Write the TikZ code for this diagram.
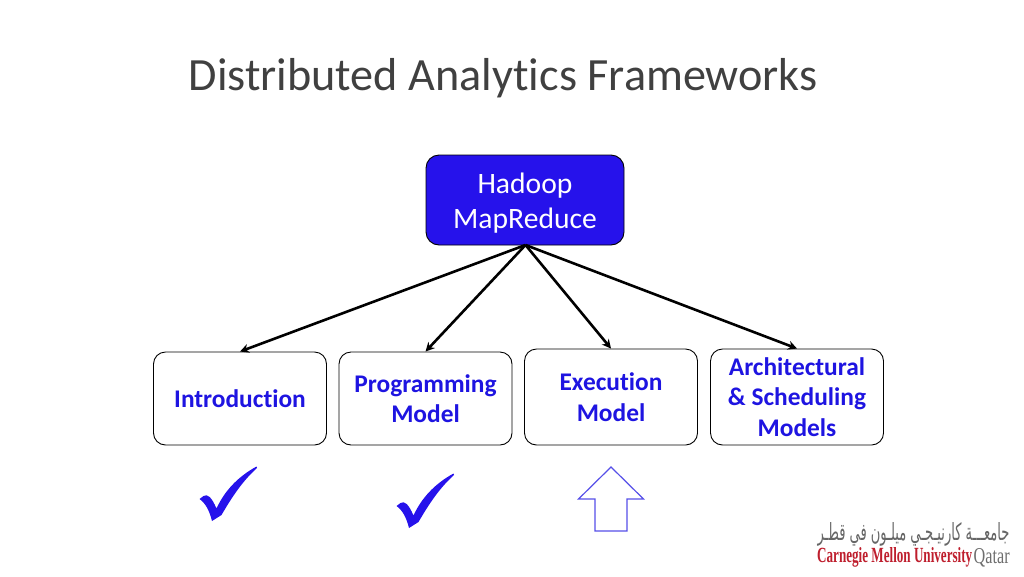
\documentclass[tikz,border=0pt]{standalone}
\usepackage{fontspec}
\setmainfont{Carlito}[RawFeature={-liga}]
\newfontfamily\logoserif{Liberation Serif}
\newfontfamily\arabicfont[Script=Arabic]{DejaVu Sans}
\TeXXeTstate=1
\definecolor{hblue}{RGB}{38,18,235}
\definecolor{lblue}{RGB}{30,20,225}
\definecolor{cmured}{RGB}{190,30,45}
\definecolor{cmugray}{RGB}{110,110,110}
\tikzset{
 card/.style={draw=black,line width=0.9pt,fill=white,rounded corners=12pt,align=center,text=lblue,font=\fontsize{25.4}{30.5}\selectfont\bfseries,inner sep=0pt},
 head/.style={draw=black,line width=0.9pt,fill=hblue,rounded corners=13pt,align=center,text=white,font=\fontsize{29.6}{35.5}\selectfont,inner sep=0pt},
 link/.style={draw=black,line width=2.6pt,-{Stealth[length=9pt,width=9pt]}},
 tick/.style={fill=hblue,draw=none},
}
\usetikzlibrary{arrows.meta}
\begin{document}
\begin{tikzpicture}[x=1pt,y=-1pt]
\useasboundingbox (0,0) rectangle (1024,576);
\node[anchor=west,font=\fontsize{46.2}{50}\selectfont,text=black!75,inner sep=0pt] (title) at (188.5,78.5) {Distributed Analytics Frameworks};
\node[head,minimum width=198pt,minimum height=90pt] (h) at (525,200) {};
\node[align=center,text=white,font=\fontsize{29.6}{35.5}\selectfont,inner sep=0pt] (ht) at (525,203) {Hadoop\\MapReduce};
\node[card,minimum width=173pt,minimum height=93pt] (a) at (240,398.5) {Introduction};
\node[card,minimum width=173pt,minimum height=93pt] (b) at (425.5,398.5) {Programming\\Model};
\node[card,minimum width=173pt,minimum height=96pt] (c) at (611,397) {Execution\\Model};
\node[card,minimum width=173pt,minimum height=96pt] (d) at (797,397) {Architectural\\\& Scheduling\\Models};
\coordinate (o) at (525.5,245);
\draw[link] (o) -- (a.north);
\draw[link] (o) -- (b.north);
\draw[link] (o) -- (c.north);
\draw[link] (o) -- (d.north);
% check marks
\def\chk#1#2{\fill[tick,shift={(#1,#2)}] (0,0) -- (4,-3) .. controls (8,-5.5) and (12,-2) .. (17,9.5) .. controls (25,-8) and (38,-22) .. (57,-32.5) -- (57.5,-31) .. controls (44,-19) and (33,-3) .. (22,16) -- (12.5,22) .. controls (10,12) and (6,4) .. (0,0) -- cycle;}
\chk{199.5}{499}
\chk{396.5}{506}
\draw[draw=lblue!75,line width=1.2pt,fill=white] (611,467) -- (643.5,499) -- (627,499) -- (627,531) -- (595,531) -- (595,499) -- (578.5,499) -- cycle;
% logo
\node[inner sep=0pt,anchor=center,text=black!60] (ar) at (913.5,534.5) {\resizebox{192pt}{18pt}{\arabicfont\beginR جامعـــة كارنيـجـي ميلـون في قطـر\endR}};
\node[inner sep=0pt,anchor=west,text=cmured] (cmu) at (817,557.5) {\resizebox{155pt}{15pt}{\logoserif\bfseries Carnegie Mellon University}};
\node[inner sep=0pt,anchor=west,text=cmugray] (q) at (973.5,557.5) {\resizebox{36pt}{15pt}{\logoserif Qatar}};
\end{tikzpicture}
\end{document}
